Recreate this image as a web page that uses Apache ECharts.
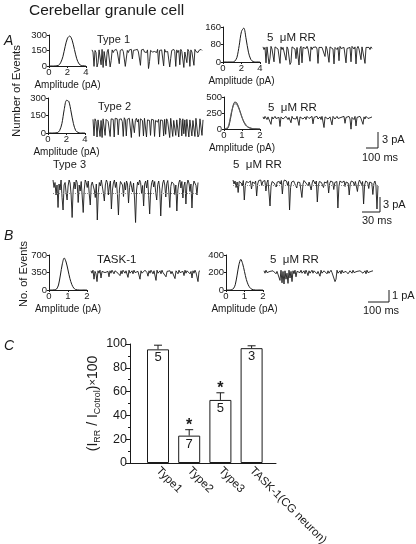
<!DOCTYPE html>
<html lang="en">
<head>
<meta charset="UTF-8">
<script src="https://cdn.jsdelivr.net/npm/echarts@6/dist/echarts.min.js"></script>
<title>Cerebellar granule cell</title>
<style>html,body{margin:0;padding:0;background:#fff}</style>
</head>
<body>
<div id="main" style="width:416px;height:544px"></div>
<script type="text/javascript">
// amplitude histograms (pA, number of events)
var histAmpA = [0, 0.5, 1.0, 1.25, 1.5, 1.75, 2.0, 2.25, 2.5, 2.75, 3.0, 3.25, 3.5, 4];
var histType1 = [0, 0, 5, 30, 90, 190, 270, 290, 250, 160, 70, 20, 5, 0];
var histType1RR = [0, 0, 0, 3, 20, 75, 140, 155, 105, 45, 12, 2, 0, 0];
var histType2 = [0, 0, 3, 20, 80, 200, 280, 270, 180, 80, 20, 5, 0, 0];
var histAmpB = [0, 0.2, 0.3, 0.4, 0.5, 0.6, 0.7, 0.8, 0.9, 1.0, 1.1, 1.2, 1.3, 1.4, 1.6, 2];
var histType2RR = [0, 10, 80, 220, 360, 420, 410, 350, 270, 180, 110, 60, 35, 20, 5, 0];
var histType2RRfit = [0, 25, 110, 250, 350, 395, 385, 335, 260, 185, 120, 75, 40, 22, 6, 0];
var histTask = [0, 0, 5, 20, 100, 300, 520, 640, 560, 400, 230, 110, 40, 10, 0, 0];
var histTaskRR = [0, 0, 5, 15, 60, 170, 290, 350, 300, 210, 120, 60, 25, 8, 0, 0];

// current traces (pA, 0 = closed level)
var trType1 = [0.2,-0.2,-2.9,0.1,-0.3,-3.0,-2.2,0.2,-0.1,-2.6,0.3,-3.1,-0.1,0.2,-2.8,-0.2,0.3,0.1,-3.0,-1.8,
 0.2,-0.3,0.1,-0.2,0.3,-0.1,0.2,-2.4,0.1,-0.2,0.3,-0.1,0.2,-2.9,-3.1,0.1,-0.3,0.2,-0.1,0.3,
 -1.5,0.1,-0.2,0.2,-0.1,0.3,-0.2,0.1,-2.7,0.2,-0.1,0.3,-0.2,0.1,-0.3,0.2,-3.3,-2.0,0.1,0.3,
 -0.2,0.1,-0.1,0.2,-0.3,0.3,-2.5,0.1,-0.2,0.2,-0.1,-2.8,0.3,-0.2,0.1,-0.1,0.2,-3.0,-1.4,0.1,
 -0.2,0.3,-0.1,-2.9,0.2,-0.3,0.1,-2.6,0.3,-0.1,0.2,-3.1,-0.2,0.1,-2.2,0.3,-0.1,-2.9,0.2,-0.2,
 0.1,-2.7,0.3,-0.1,0.2,-0.3,0.1,-0.2,0.3,0.1];
var trType1RR = [0.2,-0.3,0.1,-2.8,0.2,-0.1,-3.0,-1.9,0.3,-0.2,0.1,-2.6,0.2,-0.1,0.3,-0.2,0.1,-2.9,0.2,-0.3,
 0.1,-0.1,0.3,-2.3,0.2,-0.2,0.1,-3.1,-2.7,0.2,-0.1,0.3,-0.2,-2.0,0.1,0.2,-3.2,-0.1,0.3,-2.8,
 0.1,-0.2,0.2,-0.1,0.3,-0.2,0.1,-2.5,0.2,-0.3,0.1,0.3,-0.1,0.2,-0.2,-2.9,0.1,0.3,-0.2,0.1,
 -0.1,0.2,-1.6,0.3,-0.2,0.1,-2.7,0.2,-0.1,0.3,-0.2,-3.0,0.1,0.2,-0.3,0.1,-2.4,0.3,-0.1,0.2,
 -0.2,0.1,0.3,-2.8,-0.1,0.2,-0.2,0.1,-2.6,0.3,0.1,-0.2,0.2,-3.0,-0.1,0.3,-0.2,0.1,-2.2,0.2,
 -0.1,0.3,-2.9,0.1,-0.2,0.2,0.1,-0.3,0.2,-0.1];
var trType2 = [0.3,-2.8,0.4,-0.1,-3.0,0.2,0.5,-2.9,0.1,-3.1,0.4,0.1,-2.7,0.3,0.5,-0.1,0.2,-2.9,0.4,0.1,
 0.3,-3.0,0.5,0.2,0.4,-2.6,0.3,0.1,0.4,-0.1,-2.9,0.6,0.2,-2.8,0.3,0.1,0.5,0.2,-3.1,0.4,
 0.3,-2.2,0.1,0.5,-0.2,0.3,-2.9,0.4,0.2,0.1,-2.8,0.5,0.3,-3.0,0.2,0.4,0.1,-2.7,0.3,0.5,
 0.2,-2.9,0.1,0.4,-0.2,0.3,-3.0,0.2,0.5,0.1,-2.8,0.3,-2.5,0.4,-0.1,0.2,-3.1,0.5,0.3,-2.9,
 0.1,0.4,-2.7,0.2,0.3,-3.0,0.5,0.1,-2.8,0.4,-2.4,0.2,-2.9,0.3,0.5,-3.0,0.2,0.4,-2.8,0.1,
 0.3,-2.9,0.5,0.2,-3.0,-2.6,0.4,0.1,-2.7,0.2];
var trType2RR = [0.2,-0.2,0.3,0.1,-0.3,0.2,-0.1,0.3,-1.2,0.2,-0.2,0.1,0.3,-0.1,0.2,-0.3,0.1,-1.6,0.2,0.3,
 -0.2,0.1,-0.1,0.3,0.2,-0.3,0.1,0.2,-0.9,0.3,-0.1,0.2,0.1,-0.2,0.3,0.1,-1.4,0.2,-0.1,0.3,
 -0.2,0.1,0.2,-0.3,0.3,0.1,-0.1,0.2,-0.2,0.3,-1.1,0.1,0.2,-0.1,0.3,-0.2,0.1,0.2,-0.3,0.3,
 0.1,-1.8,0.2,-0.1,0.3,-0.2,0.1,0.2,-0.1,-1.3,0.3,0.2,-0.2,0.1,0.3,-0.1,0.2,-0.3,0.1,0.2,
 -0.2,0.3,-1.0,0.1,0.2,-0.1,0.3,-0.2,-2.1,0.1,0.2,-0.3,0.3,-1.5,0.1,-0.2,0.2,0.3,-0.1,0.1,
 -1.2,0.2,-0.2,0.3,0.1,-0.1,0.2,-0.3,0.1,0.2];
var trType3 = [0,-1.5,-0.5,-3,-1,-5.5,-0.8,-2,0,-3.5,-6,-1,-0.5,-2.5,-4,-1.2,0,-0.6,-3,-7.5,
 -2,-0.4,-1.8,0,-0.5,-4.5,-1,-2.2,-0.3,-3.2,-6.5,-2,0,-0.5,-1.5,-0.2,-2.8,-5,-1,-0.4,
 0,-2,-3.5,-0.8,-8,-2.5,-0.5,-1.2,0,-0.3,-2.6,-4.2,-1,0,-0.5,-3,-1.2,-0.2,-5.8,-2,
 -0.6,0,-1.5,-0.4,-2.9,-7,-1.8,-0.3,0,-1,-3.3,-0.5,-2,-0.2,-0.8,-4.6,-1.5,-0.3,0,-2.4,
 -0.6,-3.8,-8.5,-2,-0.4,-1,0,-0.5,-2.7,-1.1,-5.2,-0.8,-0.2,-1.6,0,-3.1,-6.8,-2.2,-0.5,0,
 -1.4,-0.3,-2.5,-4,-0.9,-0.2,-1.8,-7.2,-2.4,-0.6,0,-1,-3.4,-0.7,-0.1,-2.2,-5.5,-1.3,-0.4,0,
 -0.8,-2.9,-1,-6.2,-2,-0.5,0,-1.6,-0.3,-3.6,-1.2,-0.4,-4.8,-1,0,-0.6,-2.3,-0.8,-5.6,-1.4,
 -0.2,0,-1.1,-3,-0.5];
var trType3RR = [0,-0.8,-0.2,-1.5,-0.4,-2.5,-0.3,0,-0.6,-1.2,-0.1,-4,-1,-0.3,0,-0.5,-0.9,-0.2,-1.8,-0.4,
 0,-0.7,-0.2,-3.2,-0.8,-0.1,-0.5,0,-1.1,-0.3,-0.6,-0.1,-2.2,-0.5,0,-0.4,-5.2,-1.2,-0.3,0,
 -0.6,-0.2,-1.4,-0.4,0,-0.3,-0.8,-0.1,-2.8,-0.5,0,-0.4,-0.2,-1,-0.3,-6,-1.5,-0.4,0,-0.2,
 -0.7,-0.3,-1.6,-0.4,0,-0.5,-0.2,-3.5,-0.9,-0.1,0,-0.6,-0.3,-1.2,-0.4,-0.1,-2,-0.6,0,-0.3,
 -0.8,-0.2,-4.4,-1.1,-0.3,0,-0.5,-0.2,-1.5,-0.4,0,-0.6,-0.1,-2.6,-0.7,-0.2,0,-0.4,-1.9,-0.5,
 -0.1,-0.3,-5.6,-1.3,-0.2,0,-0.5,-0.8,-0.2,-1.3,-0.4,0,-0.6,-3,-0.8,-0.2,0,-0.4,-1.1,-0.3,
 -0.1,-2.3,-0.6,0,-0.2,-0.9,-0.3,-4.8,-1,-0.2,0,-0.5,-1.7,-0.4,-0.1,-0.6,-2.9,-0.7,-0.2,-1,
 -5.8,-1.2];
var trTask = [0.1,-0.1,0.15,-0.6,0.05,-0.15,-0.8,0.1,-0.1,0.15,-0.5,0.05,-0.1,0.15,-0.05,0.1,-0.15,0.05,-0.4,0.1,
 -0.1,0.15,0.05,-0.15,0.1,-0.05,0.15,-0.1,0.05,-0.3,0.1,-0.15,0.15,0.05,-0.1,0.1,-0.05,-0.45,0.15,-0.1,
 0.05,0.1,-0.15,0.15,-0.05,0.1,-0.1,0.05,0.15,-0.6,0.1,-0.1,0.05,-0.15,0.15,0.1,-0.05,-0.35,0.1,-0.1,
 0.15,0.05,-0.15,0.1,-0.05,-0.7,0.15,-0.1,0.05,0.1,-0.15,0.15,-0.05,0.1,-0.1,-0.4,0.05,0.15,-0.1,0.1,
 -0.15,0.05,0.15,-0.1,-0.55,0.1,0.05,-0.15,0.15,-0.05,0.1,-0.1,0.05,-0.3,0.15,-0.1,0.1,-0.05,0.15,-0.15,
 0.05,-0.5,0.1,-0.1,0.15,-0.05,0.1,-0.8,0.05,0.1];
var trTaskRR = [0.1,-0.1,0.15,-0.05,0.1,-0.15,0.05,0.15,-0.1,0.1,-0.05,0.15,-0.15,0.05,0.1,-0.1,-0.7,0.15,-0.9,0.05,
 -1.0,0.1,-0.6,-0.1,-0.95,0.15,-0.5,0.05,-0.8,0.1,-0.15,0.15,-0.4,0.05,-0.1,0.1,-0.05,0.15,-0.1,0.05,
 0.1,-0.15,0.15,-0.05,-0.3,0.1,-0.1,0.05,0.15,-0.1,0.1,-0.05,0.15,-0.15,0.05,0.1,-0.35,0.15,-0.1,0.05,
 0.1,-0.05,0.15,-0.15,0.1,-0.1,0.05,0.15,-0.05,0.1,-0.1,-0.8,-0.6,0.15,-0.1,0.05,0.1,-0.15,0.15,-0.05,
 0.1,-0.1,0.05,0.15,-0.15,-0.3,0.1,0.05,-0.1,0.15,-0.05,0.1,-0.15,0.05,0.15,-0.1,0.1,-0.05,0.15,-0.1,
 0.05,0.1,-0.15,0.15,-0.05,0.1,-0.1,0.05,0.15,0.1];

// panel C
var categories = ['Type1', 'Type2', 'Type3', 'TASK-1(CG neuron)'];
var ratio = [95.5, 23, 53, 96.5];
var ratioErr = [3.5, 5, 6, 2];
var nCells = [5, 7, 5, 3];
var signif = [false, true, true, false];

var FONT = 'Liberation Sans';
var INK = '#1a1a1a';
var grids = [], xAxes = [], yAxes = [], series = [];

function addGrid(box) {
    grids.push({left: box[0], top: box[1], width: box[2], height: box[3], outerBoundsMode: 'none', containLabel: false});
    return grids.length - 1;
}

function addHist(box, amps, counts, xmax, ymax, fit) {
    var i = addGrid(box);
    xAxes.push({
        gridIndex: i, type: 'value', min: 0, max: xmax, interval: xmax / 2,
        name: 'Amplitude (pA)', nameLocation: 'middle', nameGap: 14,
        nameTextStyle: {fontFamily: FONT, fontSize: 10, color: INK},
        axisLine: {onZero: false, lineStyle: {color: INK, width: 1}},
        axisTick: {length: 2, lineStyle: {color: INK}},
        axisLabel: {margin: 1, fontFamily: FONT, fontSize: 9.5, color: INK},
        splitLine: {show: false}
    });
    yAxes.push({
        gridIndex: i, type: 'value', min: 0, max: ymax, interval: ymax / 2,
        axisLine: {show: true, onZero: false, lineStyle: {color: INK, width: 1}},
        axisTick: {show: true, length: 2, lineStyle: {color: INK}},
        axisLabel: {margin: 2, fontFamily: FONT, fontSize: 9.5, color: INK},
        splitLine: {show: false}
    });
    var lists = [counts].concat(fit ? [fit] : []);
    lists.forEach(function (c, k) {
        series.push({
            type: 'line', xAxisIndex: i, yAxisIndex: i, smooth: 0.3, symbol: 'none',
            data: amps.map(function (a, j) { return [a, c[j]]; }),
            lineStyle: {color: k ? '#666' : INK, width: 1}
        });
    });
}

function addTrace(box, vals, ymin, ymax, dotted) {
    var i = addGrid(box);
    xAxes.push({gridIndex: i, type: 'category', boundaryGap: false, show: false,
        data: vals.map(function (v, k) { return k; })});
    yAxes.push({gridIndex: i, type: 'value', min: ymin, max: ymax, show: false});
    var s = {
        type: 'line', xAxisIndex: i, yAxisIndex: i, data: vals, symbol: 'none',
        lineStyle: {color: INK, width: 0.9}, clip: true
    };
    if (dotted !== undefined) {
        s.markLine = {
            silent: true, symbol: 'none', label: {show: false},
            lineStyle: {color: '#888', type: 'dotted', width: 1},
            data: [{yAxis: dotted}]
        };
    }
    series.push(s);
}

// panel A
addHist([49, 35, 37, 31], histAmpA, histType1, 4, 300);
addTrace([92, 48.3, 110, 21.3], trType1, -3.5, 0.5);
addHist([223, 27, 37, 35], histAmpA, histType1RR, 4, 160);
addTrace([263, 45.3, 109, 21.3], trType1RR, -3.5, 0.5);
addHist([48, 98, 37, 35], histAmpA, histType2, 4, 300);
addTrace([93, 116.7, 110, 21.9], trType2, -3.3, 0.8);
addHist([224, 97, 36, 32], histAmpB, histType2RR, 2, 500, histType2RRfit);
addTrace([263, 115.3, 109, 21.3], trType2RR, -3.5, 0.5);
addTrace([53, 177, 145, 48], trType3, -9, 0.6, -2.6);
addTrace([233, 177, 145, 35.5], trType3RR, -6.5, 0.6, -1);
// panel B
addHist([49, 255, 38, 35], histAmpB, histTask, 2, 700);
addTrace([91, 268.4, 109, 16.8], trTask, -1.1, 0.3);
addHist([226, 255, 37, 35], histAmpB, histTaskRR, 2, 400);
addTrace([264, 268.4, 109, 16.8], trTaskRR, -1.1, 0.3);

// panel C: axes frame (y axis + baseline)
var gAx = addGrid([130, 344, 146, 119]);
xAxes.push({gridIndex: gAx, type: 'category', data: [''], boundaryGap: false,
    axisLine: {show: true, onZero: false, lineStyle: {color: INK, width: 1}},
    axisTick: {show: false}, axisLabel: {show: false}, splitLine: {show: false}});
yAxes.push({gridIndex: gAx, type: 'value', min: 0, max: 100, interval: 20,
    axisLine: {show: true, onZero: false, lineStyle: {color: INK}},
    axisTick: {show: true, length: 4, lineStyle: {color: INK}},
    minorTick: {show: true, splitNumber: 2, length: 2, lineStyle: {color: INK}},
    axisLabel: {margin: 3, fontFamily: FONT, fontSize: 12.5, color: INK},
    splitLine: {show: false},
    name: '(I{s|RR} / I{s|Cotrol}){m|×}100', nameLocation: 'middle', nameGap: 25,
    nameTextStyle: {fontFamily: FONT, fontSize: 14, color: INK, lineHeight: 18,
        rich: {s: {fontFamily: FONT, fontSize: 9, color: INK, verticalAlign: 'bottom', lineHeight: 18},
               m: {fontFamily: FONT, fontSize: 11, color: INK, lineHeight: 18}}}
});
series.push({type: 'line', xAxisIndex: gAx, yAxisIndex: gAx, data: [0], symbol: 'none',
    lineStyle: {opacity: 0}, silent: true});

// panel C: bars
var gBar = addGrid([142.4, 344, 124.8, 119]);
xAxes.push({gridIndex: gBar, type: 'category', data: categories,
    axisLine: {show: false}, axisTick: {show: false},
    axisLabel: {rotate: -45, margin: 6, fontFamily: FONT, fontSize: 11.5, color: INK, interval: 0}});
yAxes.push({gridIndex: gBar, type: 'value', min: 0, max: 100, show: false});
series.push({
    type: 'bar', xAxisIndex: gBar, yAxisIndex: gBar, data: ratio, barWidth: 22,
    itemStyle: {color: '#fff', borderColor: INK, borderWidth: 1},
    label: {show: true, position: 'insideTop', distance: 2, fontFamily: FONT, fontSize: 13, color: INK,
        formatter: function (p) { return nCells[p.dataIndex]; }}
});
series.push({
    type: 'custom', xAxisIndex: gBar, yAxisIndex: gBar, z: 5,
    data: ratio.map(function (v, k) { return [k, v, ratioErr[k]]; }),
    renderItem: function (params, api) {
        var p0 = api.coord([api.value(0), api.value(1)]);
        var p1 = api.coord([api.value(0), api.value(1) + api.value(2)]);
        var kids = [
            {type: 'line', shape: {x1: p0[0], y1: p0[1], x2: p1[0], y2: p1[1]}, style: {stroke: INK, lineWidth: 1}},
            {type: 'line', shape: {x1: p1[0] - 4, y1: p1[1], x2: p1[0] + 4, y2: p1[1]}, style: {stroke: INK, lineWidth: 1}}
        ];
        if (signif[params.dataIndex]) {
            kids.push({type: 'text', x: p1[0], y: p1[1] - 4,
                style: {text: '*', font: 'bold 16px ' + FONT, fill: INK, align: 'center', verticalAlign: 'middle'}});
        }
        return {type: 'group', children: kids};
    }
});

function txt(x, y, s, size, extra) {
    var st = {text: s, font: (extra || '') + size + 'px ' + FONT, fill: INK, verticalAlign: 'middle'};
    return {type: 'text', x: x, y: y, style: st};
}
function seg(x1, y1, x2, y2) {
    return {type: 'line', shape: {x1: x1, y1: y1, x2: x2, y2: y2}, style: {stroke: INK, lineWidth: 1}};
}

var graphics = [
    txt(29, 11, 'Cerebellar granule cell', 15.5),
    txt(4, 41, 'A', 14, 'italic '),
    txt(4, 236, 'B', 14, 'italic '),
    txt(4, 346, 'C', 14, 'italic '),
    {type: 'text', x: 17, y: 91, rotation: Math.PI / 2,
        style: {text: 'Number of Events', font: '11.5px ' + FONT, fill: INK, align: 'center', verticalAlign: 'middle'}},
    {type: 'text', x: 24, y: 274, rotation: Math.PI / 2,
        style: {text: 'No. of Events', font: '11px ' + FONT, fill: INK, align: 'center', verticalAlign: 'middle'}},
    txt(97, 40, 'Type 1', 11),
    txt(267, 38, '5  μM RR', 11.5),
    txt(98, 107, 'Type 2', 11),
    txt(268, 108, '5  μM RR', 11.5),
    txt(53, 165, 'Type 3', 11),
    txt(233, 165, '5  μM RR', 11.5),
    txt(97, 260, 'TASK-1', 11.5),
    txt(270, 260, '5  μM RR', 11.5),
    // scale bars
    seg(378, 132, 378, 148), seg(366, 148, 378, 148),
    txt(382, 140, '3 pA', 11), txt(362, 158, '100 ms', 11),
    seg(380, 197, 380, 212), seg(362, 212, 380, 212),
    txt(383, 205, '3 pA', 11), txt(362, 221, '30 ms', 11),
    seg(389, 290, 389, 302), seg(368, 302, 389, 302),
    txt(392, 296, '1 pA', 11), txt(363, 311, '100 ms', 11)
];

var myChart = echarts.init(document.getElementById('main'), null, {renderer: 'canvas'});
myChart.setOption({
    animation: false,
    backgroundColor: '#fff',
    grid: grids,
    xAxis: xAxes,
    yAxis: yAxes,
    series: series,
    graphic: graphics
});
</script>
</body>
</html>
